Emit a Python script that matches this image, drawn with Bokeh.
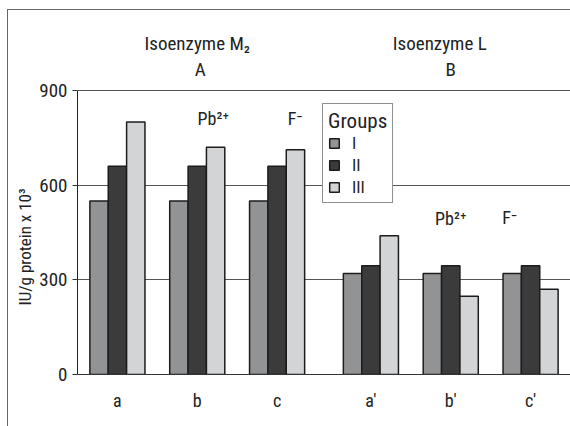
from bokeh.plotting import figure
from bokeh.models import (ColumnDataSource, FactorRange, FixedTicker, Legend, LegendItem, Title)
from bokeh.core.properties import value
from bokeh.transform import dodge
from bokeh.embed import file_html
from bokeh.resources import INLINE

# ---- data ----
isoenzymes = ["A", "B"]
samples_A = ["a", "b", "c"]
samples_B = ["a'", "b'", "c'"]
group_I = [550, 550, 550, 320, 320, 320]
group_II = [660, 660, 660, 345, 345, 345]
group_III = [800, 720, 712, 440, 248, 270]
series_names = ["I", "II", "III"]
series_colors = ["#929395", "#3b3b3b", "#d3d4d6"]
y_ticks = [0, 300, 600, 900]

# text annotations (anchor factor, pixel offset, value, text, size)
ann_x = [("A", "b"), ("A", "b"), ("B", "b'"), ("B", "b'"),
         ("A", "b"), ("A", "c"), ("B", "b'"), ("B", "c'")]
ann_dx = [0, 3, -11, 0, 16, 18, 0, -21]
ann_y = [1050, 966, 1050, 966, 810, 812, 494, 496]
ann_text = ["Isoenzyme M₂", "A", "Isoenzyme L", "B", "Pb²⁺", "F⁻", "Pb²⁺", "F⁻"]
ann_size = ["19px", "19px", "19px", "19px", "18px", "18px", "18px", "18px"]

FONT = "Roboto Condensed"
GP = 0.175

factors = [("A", s) for s in samples_A] + [("B", s) for s in samples_B]
src = ColumnDataSource(dict(x=factors, I=group_I, II=group_II, III=group_III))
ann_src = ColumnDataSource(dict(x=ann_x, dx=ann_dx, y=ann_y, text=ann_text, size=ann_size))

W, H = 562, 416
PLOT_H = 284  # pixel height of 0..900
FRAME_H = H - 52
p = figure(width=W, height=H, output_backend="svg", toolbar_location=None,
           x_range=FactorRange(factors=factors, range_padding=0, group_padding=GP,
                               factor_padding=0),
           y_range=(0, 900 * FRAME_H / PLOT_H),
           min_border_left=69, min_border_right=0, min_border_top=0, min_border_bottom=52)
p.styles = {"margin-left": "8px", "margin-top": "10px", "outline": "1px solid #666666"}
p.outline_line_color = None
p.background_fill_color = "white"
p.border_fill_color = "white"

bw = 0.23
renderers = []
for off, name, col in zip([-bw, 0, bw], series_names, series_colors):
    r = p.vbar(x=dodge("x", off, range=p.x_range), top=name, width=bw, source=src,
               fill_color=col, line_color="#1c1c1c", line_width=1.5)
    renderers.append(r)

p.text(x="x", y="y", text="text", x_offset="dx", source=ann_src,
       text_font=value(FONT), text_font_size="size", text_align="center",
       text_baseline="alphabetic", text_color="#222222")

# grid
p.xgrid.grid_line_color = None
p.ygrid.ticker = FixedTicker(ticks=y_ticks)
p.ygrid.grid_line_color = "#555555"
p.ygrid.grid_line_width = 1.2

# y axis
yax = p.yaxis[0]
yax.ticker = FixedTicker(ticks=y_ticks)
yax.bounds = (0, 900)
yax.minor_tick_line_color = None
yax.major_tick_in = 0
yax.major_tick_out = 5
yax.major_tick_line_color = "#333333"
yax.axis_line_color = "#222222"
yax.major_label_standoff = 5
yax.major_label_text_font = FONT
yax.major_label_text_font_size = "19px"
yax.major_label_text_color = "#222222"

# y axis title, placed along the 0..900 part of the axis
ytitle = Title(text="IU/g protein x 10³", align="left", offset=69,
               text_font=FONT, text_font_size="17px", text_font_style="normal",
               text_color="#222222", standoff=4)
p.add_layout(ytitle, "left")

# x axis
xax = p.xaxis[0]
xax.major_tick_line_color = None
xax.minor_tick_line_color = None
xax.axis_line_color = "#333333"
xax.axis_line_width = 1.2
xax.major_label_text_font = FONT
xax.major_label_text_font_size = "18px"
xax.major_label_text_color = "#222222"
xax.major_label_standoff = 9
xax.group_text_color = None
xax.group_text_font_size = "1px"
xax.separator_line_color = None

legend = Legend(items=[LegendItem(label=n, renderers=[r]) for n, r in zip(series_names, renderers)],
                location=(245, 171), title="Groups",
                title_text_font=FONT, title_text_font_size="21px", title_text_font_style="normal",
                title_text_color="#222222", title_standoff=0,
                label_text_font=FONT, label_text_font_size="17px", label_text_color="#222222",
                glyph_width=12, glyph_height=12, label_height=18, label_standoff=12,
                spacing=2, padding=5, margin=0,
                border_line_color="#222222", border_line_width=1.2,
                background_fill_color="white", background_fill_alpha=1)
p.add_layout(legend, "center")

open("out.html", "w").write(file_html(p, INLINE))
